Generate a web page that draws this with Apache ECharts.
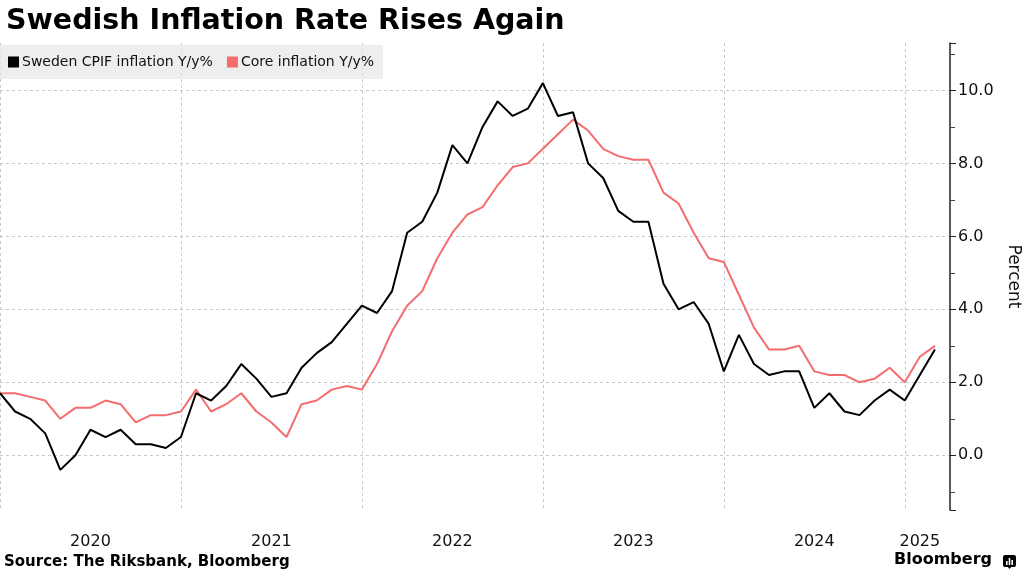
<!DOCTYPE html>
<html>
<head>
<meta charset="utf-8">
<script src="https://cdn.jsdelivr.net/npm/echarts@6/dist/echarts.min.js"></script>
<style>
html,body{margin:0;padding:0;background:#fff;}
#chart{width:1024px;height:576px;}
</style>
</head>
<body>
<div id="chart"></div>
<script>
// Monthly observations, Dec 2019 .. Feb 2025 (plus one empty slot for Mar 2025)
var months = [];
for (var y = 2019; y <= 2025; y++) {
  for (var m = 1; m <= 12; m++) {
    if (y === 2019 && m < 12) continue;
    if (y === 2025 && m > 3) continue;
    months.push(y + '-' + (m < 10 ? '0' + m : m));
  }
}
var cpif = [1.7, 1.2, 1.0, 0.6, -0.4, 0.0, 0.7, 0.5, 0.7, 0.3, 0.3, 0.2, 0.5,
  1.7, 1.5, 1.9, 2.5, 2.1, 1.6, 1.7, 2.4, 2.8, 3.1, 3.6, 4.1,
  3.9, 4.5, 6.1, 6.4, 7.2, 8.5, 8.0, 9.0, 9.7, 9.3, 9.5, 10.2,
  9.3, 9.4, 8.0, 7.6, 6.7, 6.4, 6.4, 4.7, 4.0, 4.2, 3.6, 2.3,
  3.3, 2.5, 2.2, 2.3, 2.3, 1.3, 1.7, 1.2, 1.1, 1.5, 1.8, 1.5,
  2.2, 2.9];
var core = [1.7, 1.7, 1.6, 1.5, 1.0, 1.3, 1.3, 1.5, 1.4, 0.9, 1.1, 1.1, 1.2,
  1.8, 1.2, 1.4, 1.7, 1.2, 0.9, 0.5, 1.4, 1.5, 1.8, 1.9, 1.8,
  2.5, 3.4, 4.1, 4.5, 5.4, 6.1, 6.6, 6.8, 7.4, 7.9, 8.0, 8.4,
  8.8, 9.2, 8.9, 8.4, 8.2, 8.1, 8.1, 7.2, 6.9, 6.1, 5.4, 5.3,
  4.4, 3.5, 2.9, 2.9, 3.0, 2.3, 2.2, 2.2, 2.0, 2.1, 2.4, 2.0,
  2.7, 3.0];
var yearLabels = ['2020', '2021', '2022', '2023', '2024', '2025'];
var yearLabelIdx = [6, 18, 30, 42, 54, 61];
var yearBoundaryIdx = [0, 12, 24, 36, 48, 60];
var seriesNames = ['Sweden CPIF inflation Y/y%', 'Core inflation Y/y%'];

var chart = echarts.init(document.getElementById('chart'));
var option = {
  backgroundColor: '#ffffff',
  animation: false,
  title: {
    text: 'Swedish Inflation Rate Rises Again',
    left: 1, top: 2,
    textStyle: {fontFamily: 'DejaVu Sans', fontWeight: 'bold', fontSize: 28.5, color: '#000'}
  },
  legend: {
    left: 0, top: 45,
    padding: [10, 9, 10, 8],
    itemGap: 14,
    itemWidth: 11, itemHeight: 11,
    icon: 'rect',
    backgroundColor: 'rgba(232,232,232,0.75)',
    textStyle: {fontFamily: 'DejaVu Sans', fontSize: 14, color: '#111', padding: [0, 0, 0, -2]},
    data: seriesNames
  },
  grid: {left: 0, right: 74, top: 43, bottom: 66, containLabel: false, outerBoundsMode: 'none'},
  xAxis: {
    type: 'category',
    data: months,
    boundaryGap: false,
    axisLine: {show: false},
    axisTick: {show: false},
    axisLabel: {
      interval: function (idx) { return yearLabelIdx.indexOf(idx) >= 0; },
      formatter: function (v, idx) { var k = yearLabelIdx.indexOf(idx); return k >= 0 ? yearLabels[k] : ''; },
      fontFamily: 'DejaVu Sans',
      fontSize: 16, color: '#111', margin: 24
    },
    splitLine: {
      show: true,
      interval: function (idx) { return yearBoundaryIdx.indexOf(idx) >= 0; },
      lineStyle: {color: '#c8c8c8', type: [3, 3], width: 1}
    }
  },
  yAxis: {
    type: 'value',
    position: 'right',
    min: -1.5, max: 11.3,
    splitNumber: 6,
    name: 'Percent',
    nameLocation: 'middle',
    nameRotate: -90,
    nameGap: 51,
    nameTextStyle: {fontFamily: 'DejaVu Sans', fontSize: 17, color: '#111'},
    axisLine: {show: true, lineStyle: {color: '#222', width: 1.5}},
    axisTick: {show: true, length: 6, lineStyle: {color: '#222'}},
    minorTick: {show: true, splitNumber: 2, length: 5, lineStyle: {color: '#444'}},
    axisLabel: {
      showMinLabel: false, showMaxLabel: false,
      formatter: function (v) { return v.toFixed(1); },
      fontFamily: 'DejaVu Sans', fontSize: 16, color: '#111', margin: 8
    },
    splitLine: {show: true, showMinLine: false, showMaxLine: false,
      lineStyle: {color: '#c8c8c8', type: [3, 3], width: 1}}
  },
  series: [
    {
      name: seriesNames[0], type: 'line', data: cpif,
      symbol: 'none', z: 3,
      itemStyle: {color: '#000000'},
      lineStyle: {color: '#000000', width: 2}
    },
    {
      name: seriesNames[1], type: 'line', data: core,
      symbol: 'none', z: 2,
      itemStyle: {color: '#f36d6e'},
      lineStyle: {color: '#f36d6e', width: 2}
    }
  ],
  graphic: [
    {
      type: 'text', left: 4, top: 555,
      style: {text: 'Source: The Riksbank, Bloomberg', fontFamily: 'DejaVu Sans', fontWeight: 'bold', fontSize: 15, fill: '#000'}
    },
    {
      type: 'text', left: 894, top: 552,
      style: {text: 'Bloomberg', fontFamily: 'DejaVu Sans', fontWeight: 'bold', fontSize: 16, fill: '#000'}
    },
    {
      type: 'rect', shape: {x: 1003, y: 555, width: 13, height: 12, r: 2},
      style: {fill: '#000'}
    },
    {
      type: 'polygon', shape: {points: [[1007, 566], [1012, 566], [1009.5, 569]]},
      style: {fill: '#000'}
    },
    {
      type: 'rect', shape: {x: 1006, y: 561, width: 1.6, height: 4}, style: {fill: '#fff'}
    },
    {
      type: 'rect', shape: {x: 1008.7, y: 558, width: 1.6, height: 7}, style: {fill: '#fff'}
    },
    {
      type: 'rect', shape: {x: 1011.4, y: 560, width: 1.6, height: 5}, style: {fill: '#fff'}
    }
  ]
};
chart.setOption(option);
</script>
</body>
</html>
